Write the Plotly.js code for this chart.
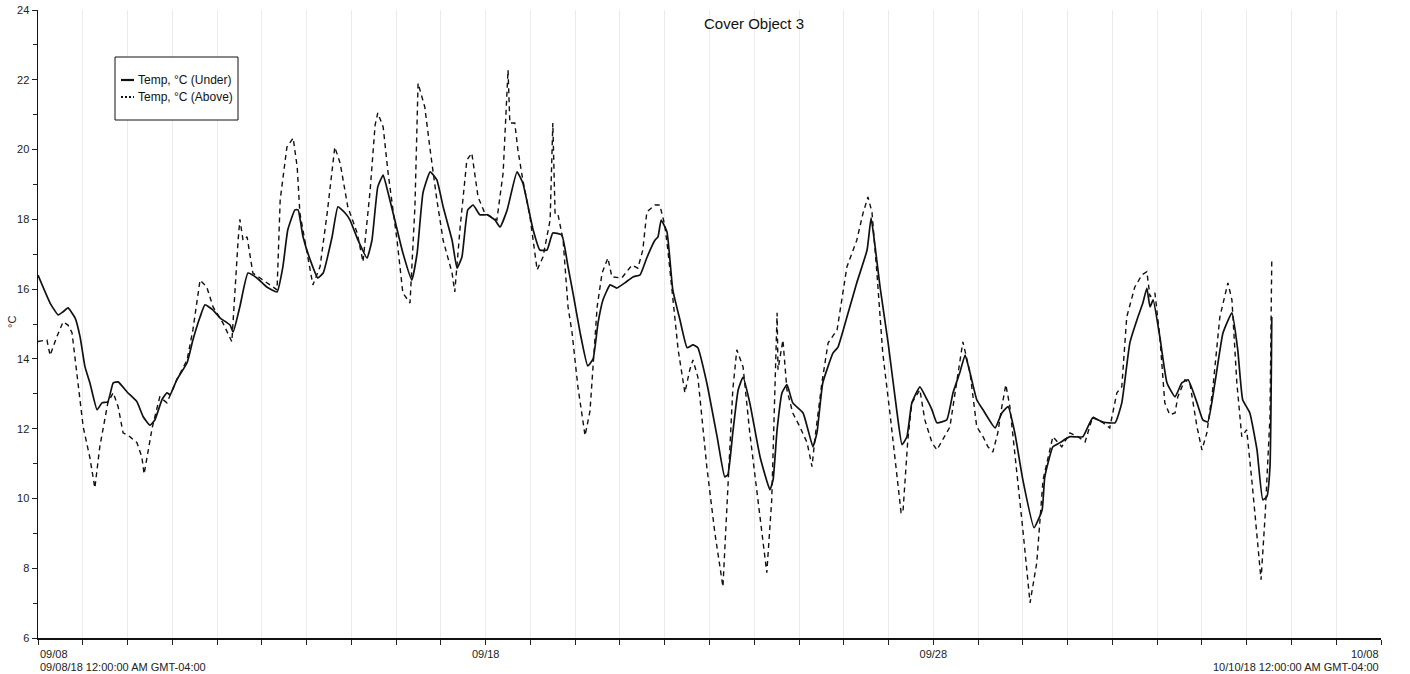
<!DOCTYPE html>
<html>
<head>
<meta charset="utf-8">
<script src="https://cdn.plot.ly/plotly-3.0.1.min.js"></script>
<style>html,body{margin:0;padding:0;background:#fff;}#chart{width:1410px;height:674px;}</style>
</head>
<body>
<div id="chart"></div>
<script>
// Days elapsed since 09/08/18 00:00 and temperature (°C)
const underDays = [0,0.27,0.45,0.56,0.67,0.83,0.94,1.05,1.16,1.32,1.43,1.56,1.68,1.79,1.99,2.21,2.35,2.50,2.61,2.77,2.88,2.95,3.10,3.33,3.46,3.62,3.73,3.91,4.07,4.29,4.36,4.51,4.69,4.89,5.11,5.34,5.47,5.58,5.74,5.81,5.92,6.08,6.25,6.37,6.57,6.70,6.86,6.97,7.15,7.35,7.46,7.59,7.71,7.82,7.97,8.15,8.35,8.47,8.60,8.76,8.91,9.05,9.25,9.36,9.47,9.60,9.72,9.87,10.03,10.21,10.32,10.48,10.70,10.83,11.06,11.21,11.37,11.50,11.70,11.84,11.95,12.11,12.28,12.40,12.51,12.62,12.78,12.93,13.11,13.29,13.45,13.60,13.78,13.85,13.92,14.05,14.18,14.34,14.50,14.63,14.74,14.94,15.17,15.34,15.41,15.52,15.64,15.75,15.90,16.13,16.35,16.42,16.51,16.62,16.73,16.86,17.09,17.20,17.31,17.40,17.53,17.76,17.87,18.07,18.29,18.52,18.61,18.70,18.81,18.99,19.19,19.30,19.41,19.52,19.70,19.86,19.97,20.08,20.30,20.44,20.59,20.71,20.82,20.97,21.11,21.38,21.53,21.67,21.82,22.00,22.25,22.43,22.49,22.67,22.83,23.05,23.34,23.56,23.79,24.06,24.21,24.39,24.57,24.68,24.77,24.84,24.91,25.06,25.22,25.40,25.55,25.69,25.89,26.02,26.13,26.29,26.47,26.67,26.80,26.91,27.07,27.23,27.36,27.45,27.52,27.56];
const underTemp = [16.4,15.6,15.26,15.35,15.46,15.17,14.63,13.77,13.31,12.54,12.74,12.77,13.31,13.34,13.05,12.77,12.34,12.1,12.25,12.83,13.03,12.97,13.4,13.89,14.54,15.2,15.55,15.4,15.17,14.97,14.77,15.5,16.46,16.32,16.06,15.92,16.64,17.7,18.27,18.27,17.5,16.84,16.32,16.46,17.5,18.36,18.18,17.98,17.4,16.89,17.4,18.93,19.27,18.76,17.98,17.04,16.26,17.04,18.76,19.36,19.13,18.36,17.4,16.6,16.92,18.27,18.41,18.13,18.13,17.98,17.78,18.27,19.36,19.04,17.7,17.12,17.12,17.61,17.55,16.64,15.89,14.75,13.8,14.0,15.03,15.69,16.12,16.03,16.18,16.35,16.41,16.9,17.4,17.5,17.98,17.64,15.98,15.12,14.32,14.4,14.32,13.31,11.77,10.62,10.68,11.88,13.11,13.48,12.74,11.19,10.25,10.53,11.97,13.03,13.26,12.74,12.45,11.97,11.48,11.88,13.31,14.17,14.34,15.2,16.18,17.12,18.04,17.21,16.06,14.46,12.45,11.54,11.77,12.74,13.2,12.83,12.54,12.17,12.25,13.03,13.6,14.11,13.6,12.83,12.54,12.02,12.45,12.63,11.88,10.53,9.16,9.67,10.62,11.48,11.6,11.77,11.77,12.31,12.19,12.17,12.74,14.46,15.2,15.6,16.03,15.49,15.69,14.63,13.31,12.91,13.31,13.4,12.74,12.25,12.19,13.31,14.74,15.32,14.26,12.83,12.45,11.39,9.96,10.05,10.91,15.2];

const aboveDays = [0,0.20,0.27,0.42,0.56,0.67,0.76,0.87,1.01,1.16,1.27,1.38,1.56,1.68,1.79,1.90,2.05,2.21,2.32,2.37,2.55,2.72,2.88,3.10,3.33,3.46,3.62,3.77,3.91,4.13,4.33,4.47,4.51,4.58,4.67,4.80,5.03,5.34,5.41,5.56,5.70,5.79,5.85,6.01,6.14,6.30,6.46,6.63,6.75,6.92,7.13,7.26,7.42,7.53,7.59,7.71,7.82,8.02,8.15,8.31,8.42,8.49,8.58,8.64,8.76,8.91,9.05,9.25,9.31,9.43,9.58,9.69,9.83,9.98,10.25,10.39,10.50,10.54,10.65,10.72,10.83,10.99,11.15,11.28,11.44,11.50,11.55,11.61,11.73,11.84,11.93,12.06,12.22,12.33,12.49,12.60,12.73,12.82,13.04,13.27,13.40,13.51,13.60,13.78,13.89,14.00,14.07,14.18,14.30,14.45,14.56,14.63,14.74,14.94,15.12,15.30,15.41,15.52,15.61,15.75,15.90,16.13,16.28,16.39,16.51,16.53,16.64,16.73,16.86,17.02,17.18,17.29,17.36,17.51,17.65,17.85,17.98,18.07,18.29,18.43,18.54,18.63,18.74,18.87,19.03,19.19,19.28,19.32,19.43,19.52,19.70,19.81,19.97,20.08,20.21,20.37,20.53,20.66,20.82,20.97,21.11,21.22,21.33,21.44,21.53,21.62,21.71,21.87,22.00,22.16,22.31,22.45,22.67,22.87,23.05,23.23,23.39,23.56,23.79,23.94,24.10,24.21,24.32,24.50,24.66,24.77,24.84,24.95,25.06,25.17,25.28,25.40,25.46,25.62,25.73,25.89,26.00,26.11,26.24,26.40,26.58,26.67,26.78,26.89,27.00,27.12,27.25,27.32,27.41,27.52,27.56];
const aboveTemp = [14.5,14.54,14.1,14.63,15.06,14.97,14.75,13.6,12.05,11.16,10.3,11.48,12.74,13.03,12.63,11.88,11.77,11.6,11.19,10.7,12.02,12.91,12.74,13.4,13.97,14.83,16.26,16.06,15.49,15.03,14.49,17.4,18.0,17.4,17.5,16.46,16.26,15.98,18.56,20.07,20.33,19.5,18.18,17.04,16.12,16.64,18.18,20.07,19.61,18.36,17.61,16.78,18.84,20.7,21.05,20.65,19.33,17.4,15.89,15.6,18.36,21.9,21.5,21.22,19.99,18.56,17.4,16.46,15.92,17.78,19.7,19.9,18.64,18.18,17.98,19.33,22.28,20.76,20.76,19.99,19.13,18.07,16.55,16.92,17.98,20.76,18.18,18.18,17.4,15.49,14.75,13.2,11.8,12.5,15.49,16.46,16.89,16.35,16.32,16.69,16.6,17.12,18.21,18.41,18.41,17.84,17.12,15.69,14.26,13.03,13.69,13.97,13.48,10.91,9.01,7.47,10.45,13.11,14.26,13.77,11.88,9.47,7.87,9.96,15.32,13.69,14.54,13.11,12.45,12.05,11.6,10.91,11.77,13.31,14.46,14.83,15.98,16.64,17.4,18.18,18.64,18.2,16.46,14.17,12.45,10.53,9.59,9.59,11.68,12.74,13.11,12.25,11.6,11.39,11.68,12.05,13.4,14.49,13.6,12.05,11.77,11.48,11.33,11.88,12.63,13.26,12.63,10.73,9.1,7.01,8.15,10.53,11.77,11.48,11.88,11.77,11.62,12.34,12.17,12.02,13.03,13.2,15.2,16.06,16.41,16.5,15.78,15.89,14.63,12.74,12.4,12.45,12.91,13.4,13.31,12.05,11.39,11.88,13.11,15.2,16.18,15.69,13.31,11.77,11.97,10.45,8.53,7.67,9.47,12.34,16.84];

const seriesNames = ['Temp, °C (Under)', 'Temp, °C (Above)'];
const midTickVals = ['2018-09-18', '2018-09-28'];
const midTickText = ['09/18', '09/28'];
const startLabel = ['09/08', '09/08/18 12:00:00 AM GMT-04:00'];
const endLabel = ['10/08', '10/10/18 12:00:00 AM GMT-04:00'];
const chartTitle = 'Cover Object 3';
const yTitle = '°C';

const base = Date.UTC(2018, 8, 8);
const toMs = d => base + d * 86400000;

const FONT = '"Liberation Sans", Arial, sans-serif';
const W = 1410, H = 674;
const L = 38, R = 29, T = 10, B = 36;
const pw = W - L - R, ph = H - T - B;
const px = x => (x - L) / pw;          // pixel -> paper x
const py = y => 1 - (y - T) / ph;      // pixel -> paper y

const traces = [
  {x: underDays.map(toMs), y: underTemp, name: seriesNames[0], type: 'scatter', mode: 'lines',
   line: {color: '#111', width: 1.7, shape: 'spline', smoothing: 0.4}},
  {x: aboveDays.map(toMs), y: aboveTemp, name: seriesNames[1], type: 'scatter', mode: 'lines',
   line: {color: '#111', width: 1.4, dash: '5px,4px'}}
];

const layout = {
  width: W, height: H,
  margin: {l: L, r: R, t: T, b: B},
  paper_bgcolor: '#fff', plot_bgcolor: '#fff',
  showlegend: false,
  font: {family: FONT, size: 11, color: '#222'},
  title: {text: chartTitle, x: 754 / W, xanchor: 'center', xref: 'container',
          y: 1 - 24 / H, yanchor: 'middle', yref: 'container', font: {size: 15, color: '#111', family: FONT}},
  xaxis: {
    type: 'date', range: ['2018-09-08', '2018-10-08'],
    tickvals: midTickVals, ticktext: midTickText, ticks: 'outside', ticklen: 5, tickcolor: '#222',
    showline: true, linecolor: '#111', linewidth: 1.5, mirror: false,
    showgrid: true, gridcolor: '#ebebeb', gridwidth: 1, zeroline: false,
    tickfont: {size: 11, color: '#222'},
    minor: {dtick: 86400000, tick0: '2018-09-08', ticks: 'outside', ticklen: 5, tickcolor: '#222',
            showgrid: true, gridcolor: '#ebebeb', gridwidth: 1}
  },
  yaxis: {
    range: [6, 24], dtick: 2, tick0: 6, ticks: 'outside', ticklen: 5, tickcolor: '#222',
    showline: true, linecolor: '#111', linewidth: 1.5, showgrid: false, zeroline: false,
    tickfont: {size: 11, color: '#222'},
    minor: {dtick: 1, ticks: 'outside', ticklen: 4, tickcolor: '#222', showgrid: false}
  },
  shapes: [
    {type: 'rect', xref: 'paper', yref: 'paper', x0: px(115), x1: px(238), y0: py(120), y1: py(57),
     line: {color: '#111', width: 1}, fillcolor: '#fff'},
    {type: 'line', xref: 'paper', yref: 'paper', x0: px(121), x1: px(134), y0: py(80), y1: py(80),
     line: {color: '#111', width: 2.2}},
    {type: 'line', xref: 'paper', yref: 'paper', x0: px(121), x1: px(134), y0: py(97), y1: py(97),
     line: {color: '#111', width: 2.2, dash: '2px,2px'}}
  ],
  annotations: [
    {xref: 'paper', yref: 'paper', x: px(136), y: py(80), xanchor: 'left', yanchor: 'middle', showarrow: false,
     text: seriesNames[0], font: {size: 12, color: '#111'}},
    {xref: 'paper', yref: 'paper', x: px(136), y: py(97), xanchor: 'left', yanchor: 'middle', showarrow: false,
     text: seriesNames[1], font: {size: 12, color: '#111'}},
    {xref: 'paper', yref: 'paper', x: px(12), y: py(322), xanchor: 'center', yanchor: 'middle', showarrow: false,
     textangle: -90, text: yTitle, font: {size: 11, color: '#222'}},
    {xref: 'paper', yref: 'paper', x: 0, y: py(654), xanchor: 'left', yanchor: 'middle', showarrow: false,
     text: startLabel[0], font: {size: 11, color: '#222'}},
    {xref: 'paper', yref: 'paper', x: 0, y: py(667), xanchor: 'left', yanchor: 'middle', showarrow: false,
     text: startLabel[1], font: {size: 11, color: '#222'}},
    {xref: 'paper', yref: 'paper', x: 1, y: py(654), xanchor: 'right', yanchor: 'middle', showarrow: false,
     text: endLabel[0], font: {size: 11, color: '#222'}},
    {xref: 'paper', yref: 'paper', x: 1, y: py(667), xanchor: 'right', yanchor: 'middle', showarrow: false,
     text: endLabel[1], font: {size: 11, color: '#222'}}
  ]
};

Plotly.newPlot('chart', traces, layout, {displayModeBar: false, staticPlot: true});
</script>
</body>
</html>
